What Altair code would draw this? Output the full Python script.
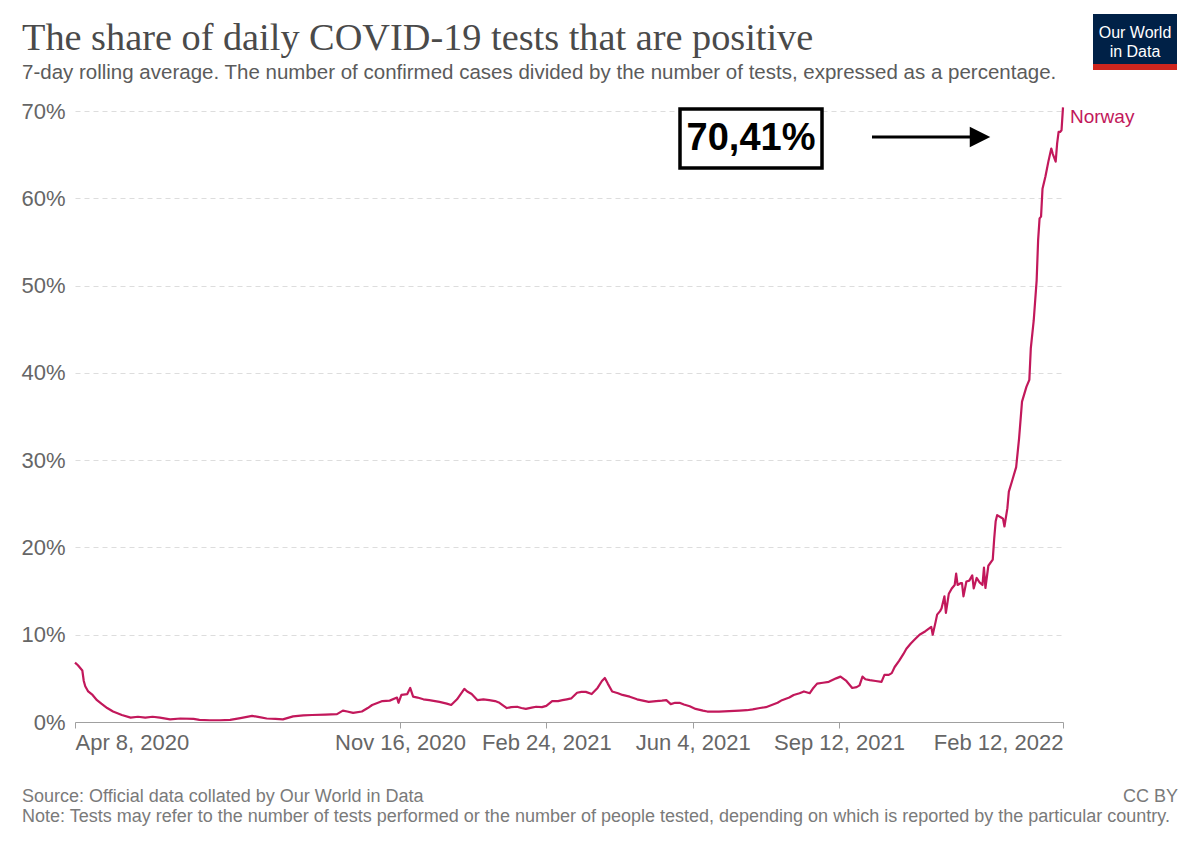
import altair as alt
import pandas as pd

# ---------------- data ----------------
dates = [
    "2020-04-08", "2020-04-10", "2020-04-12", "2020-04-13", "2020-04-14", "2020-04-15", "2020-04-17",
    "2020-04-20", "2020-04-23", "2020-04-26", "2020-04-30", "2020-05-04", "2020-05-10", "2020-05-16",
    "2020-05-21", "2020-05-26", "2020-05-31", "2020-06-05", "2020-06-12", "2020-06-19", "2020-06-28",
    "2020-07-02", "2020-07-09", "2020-07-16", "2020-07-23", "2020-07-30", "2020-08-07", "2020-08-12",
    "2020-08-17", "2020-08-23", "2020-08-28", "2020-09-04", "2020-09-11", "2020-09-17", "2020-09-26",
    "2020-10-04", "2020-10-08", "2020-10-11", "2020-10-15", "2020-10-21", "2020-10-25", "2020-10-28",
    "2020-11-01", "2020-11-04", "2020-11-09", "2020-11-14", "2020-11-15", "2020-11-17", "2020-11-21",
    "2020-11-23", "2020-11-25", "2020-11-28", "2020-12-02", "2020-12-06", "2020-12-13", "2020-12-18",
    "2020-12-21", "2020-12-25", "2020-12-30", "2021-01-01", "2021-01-04", "2021-01-08", "2021-01-12",
    "2021-01-16", "2021-01-20", "2021-01-23", "2021-01-28", "2021-01-31", "2021-02-04", "2021-02-07",
    "2021-02-10", "2021-02-14", "2021-02-17", "2021-02-21", "2021-02-24", "2021-02-28", "2021-03-04",
    "2021-03-07", "2021-03-10", "2021-03-13", "2021-03-17", "2021-03-20", "2021-03-23", "2021-03-27",
    "2021-03-31", "2021-04-03", "2021-04-05", "2021-04-07", "2021-04-10", "2021-04-14", "2021-04-17",
    "2021-04-22", "2021-04-27", "2021-05-01", "2021-05-05", "2021-05-10", "2021-05-14", "2021-05-17",
    "2021-05-20", "2021-05-23", "2021-05-26", "2021-05-29", "2021-06-02", "2021-06-06", "2021-06-11",
    "2021-06-14", "2021-06-17", "2021-06-22", "2021-06-29", "2021-07-06", "2021-07-11", "2021-07-15",
    "2021-07-20", "2021-07-24", "2021-07-28", "2021-08-01", "2021-08-04", "2021-08-09", "2021-08-12",
    "2021-08-16", "2021-08-19", "2021-08-23", "2021-08-25", "2021-08-28", "2021-09-01", "2021-09-05",
    "2021-09-10", "2021-09-13", "2021-09-17", "2021-09-19", "2021-09-21", "2021-09-24", "2021-09-26",
    "2021-09-28", "2021-09-30", "2021-10-03", "2021-10-07", "2021-10-11", "2021-10-13", "2021-10-16",
    "2021-10-18", "2021-10-20", "2021-10-23", "2021-10-26", "2021-10-28", "2021-10-31", "2021-11-03",
    "2021-11-06", "2021-11-10", "2021-11-14", "2021-11-15", "2021-11-17", "2021-11-18", "2021-11-20",
    "2021-11-21", "2021-11-23", "2021-11-24", "2021-11-26", "2021-11-28", "2021-11-30", "2021-12-01",
    "2021-12-02", "2021-12-04", "2021-12-05", "2021-12-06", "2021-12-08", "2021-12-10", "2021-12-12",
    "2021-12-13", "2021-12-15", "2021-12-17", "2021-12-19", "2021-12-20", "2021-12-21", "2021-12-23",
    "2021-12-26", "2021-12-27", "2021-12-28", "2021-12-29", "2022-01-01", "2022-01-02", "2022-01-03",
    "2022-01-05", "2022-01-06", "2022-01-08", "2022-01-11", "2022-01-13", "2022-01-15", "2022-01-18",
    "2022-01-20", "2022-01-21", "2022-01-23", "2022-01-25", "2022-01-26", "2022-01-27", "2022-01-28",
    "2022-01-29", "2022-01-31", "2022-02-02", "2022-02-04", "2022-02-05", "2022-02-07", "2022-02-08",
    "2022-02-09", "2022-02-10", "2022-02-11", "2022-02-12",
]
share = [
    6.8, 6.5, 6.1, 5.9, 4.7, 4.1, 3.5,
    3.1, 2.5, 2.1, 1.6, 1.2, 0.8, 0.5,
    0.6, 0.5, 0.6, 0.5, 0.3, 0.4, 0.35,
    0.25, 0.2, 0.2, 0.25, 0.45, 0.7, 0.55,
    0.4, 0.35, 0.3, 0.65, 0.75, 0.8, 0.85,
    0.9, 1.3, 1.2, 1.05, 1.2, 1.6, 1.95,
    2.2, 2.4, 2.45, 2.8, 2.2, 3.1, 3.2,
    3.9, 2.9, 2.8, 2.6, 2.5, 2.3, 2.1,
    1.95, 2.6, 3.8, 3.5, 3.2, 2.5, 2.6,
    2.5, 2.4, 2.2, 1.6, 1.7, 1.75, 1.6,
    1.5, 1.65, 1.75, 1.7, 1.85, 2.4, 2.4,
    2.5, 2.6, 2.7, 3.35, 3.45, 3.45, 3.2,
    3.9, 4.7, 5.05, 4.4, 3.5, 3.3, 3.1,
    2.9, 2.6, 2.45, 2.3, 2.4, 2.45, 2.5,
    2.05, 2.2, 2.2, 2.0, 1.8, 1.5, 1.3,
    1.2, 1.2, 1.2, 1.25, 1.3, 1.35, 1.45,
    1.6, 1.7, 1.95, 2.2, 2.5, 2.8, 3.1,
    3.3, 3.5, 3.3, 3.8, 4.4, 4.5, 4.6,
    5.0, 5.2, 4.7, 4.3, 3.9, 4.0, 4.2,
    5.2, 4.9, 4.8, 4.7, 4.6, 5.4, 5.4,
    5.6, 6.3, 7.0, 7.8, 8.4, 9.0, 9.5,
    10.0, 10.4, 10.9, 10.0, 11.5, 12.3, 12.7,
    13.0, 14.4, 12.5, 14.7, 15.3, 15.7, 17.0,
    15.7, 15.9, 15.9, 14.4, 16.1, 16.2, 16.8,
    15.3, 16.5, 16.0, 15.7, 17.7, 15.35, 17.9,
    18.6, 21.0, 23.0, 23.7, 23.4, 23.3, 22.4,
    24.5, 26.4, 27.5, 29.2, 32.5, 36.7, 38.4,
    39.2, 42.8, 46.0, 50.6, 55.2, 57.7, 57.9,
    61.1, 62.5, 64.2, 65.7, 65.1, 64.2, 66.3,
    67.6, 67.6, 67.8, 70.41,
]
country = "Norway"
tick_dates = [(2020, 4, 8), (2020, 11, 16), (2021, 2, 24), (2021, 6, 4), (2021, 9, 12), (2022, 2, 12)]
y_ticks = [0, 10, 20, 30, 40, 50, 60, 70]
annotation_label = "70,41%"

title = "The share of daily COVID-19 tests that are positive"
subtitle = "7-day rolling average. The number of confirmed cases divided by the number of tests, expressed as a percentage."
source = "Source: Official data collated by Our World in Data"
note = "Note: Tests may refer to the number of tests performed or the number of people tested, depending on which is reported by the particular country."
license_text = "CC BY"
logo_lines = ["Our World", "in Data"]

LINE = "#c2185b"
GREY = "#666666"
SANS = "Liberation Sans"

df = pd.DataFrame({"date": dates, "share": share, "country": country})

def dt(t):
    return alt.DateTime(year=t[0], month=t[1], date=t[2], utc=True)

x_enc = alt.X(
    "date:T",
    scale=alt.Scale(type="utc", domain=[dt(tick_dates[0]), dt(tick_dates[-1])]),
    axis=alt.Axis(
        values=[dt(t) for t in tick_dates],
        labelExpr="utcFormat(datum.value, '%b %-d, %Y')",
        labelFlush=True, labelFont=SANS, labelFontSize=22, labelColor=GREY,
        labelPadding=4, tickSize=6, tickColor="#a0a0a0", domainColor="#a0a0a0",
        grid=False, title=None, labelOverlap=False,
    ),
)
y_enc = alt.Y(
    "share:Q",
    scale=alt.Scale(domain=[0, 70], nice=False),
    axis=alt.Axis(
        values=y_ticks, labelExpr="datum.value + '%'", labelFont=SANS, labelFontSize=22,
        labelColor=GREY, labelPadding=10, ticks=False, domain=False, grid=True,
        gridColor="#dddddd", gridDash=[5, 4], title=None,
    ),
)

line = alt.Chart(df).mark_line(color=LINE, strokeWidth=2.2, strokeJoin="round").encode(x=x_enc, y=y_enc)

last = df.tail(1)
label = alt.Chart(last).mark_text(
    align="left", baseline="middle", dx=7, dy=10, font=SANS, fontSize=19, color=LINE
).encode(x="date:T", y="share:Q", text="country:N")

def txt(s, x, y, **kw):
    return alt.Chart(pd.DataFrame({"t": [s]})).mark_text(**kw).encode(
        text="t:N", x=alt.value(x), y=alt.value(y)
    )

def box(x, x2, y, y2, **kw):
    return alt.Chart(pd.DataFrame({"a": [0]})).mark_rect(**kw).encode(
        x=alt.value(x), x2=alt.value(x2), y=alt.value(y), y2=alt.value(y2)
    )

title_t = txt(title, -53, -61, align="left", baseline="alphabetic", font="Liberation Serif",
              fontSize=38.3, color="#4a4a4a")
sub_t = txt(subtitle, -53, -32, align="left", baseline="alphabetic", font=SANS, fontSize=20.5, color="#5b5b5b")
src_t = txt(source, -53, 691, align="left", baseline="alphabetic", font=SANS, fontSize=18, color="#7a7a7a")
note_t = txt(note, -53, 711, align="left", baseline="alphabetic", font=SANS, fontSize=18, color="#7a7a7a")
lic_t = txt(license_text, 1103, 691, align="right", baseline="alphabetic", font=SANS, fontSize=18, color="#7a7a7a")

logo_bg = box(1018, 1102, -97, -47, fill="#002147")
logo_red = box(1018, 1102, -47, -41, fill="#ce261e")
logo_1 = txt(logo_lines[0], 1060, -78, align="center", baseline="middle", font=SANS, fontSize=16, color="white")
logo_2 = txt(logo_lines[1], 1060, -59, align="center", baseline="middle", font=SANS, fontSize=16, color="white")

ann_box = box(605, 747, -2, 57, fill="white", stroke="black", strokeWidth=3.5)
ann_t = txt(annotation_label, 676, 28, align="center", baseline="middle", font=SANS, fontSize=38,
            fontWeight="bold", color="black")
arrow_line = alt.Chart(pd.DataFrame({"a": [0]})).mark_rule(color="black", strokeWidth=3).encode(
    x=alt.value(797), x2=alt.value(898), y=alt.value(26)
)
arrow_head = alt.Chart(pd.DataFrame({"a": [0]})).mark_point(
    shape="M-1,-1L1,0L-1,1Z", size=420, filled=True, color="black", opacity=1, strokeWidth=0
).encode(x=alt.value(905), y=alt.value(26))

chart = alt.layer(
    line, label, title_t, sub_t, src_t, note_t, lic_t,
    logo_bg, logo_red, logo_1, logo_2, ann_box, ann_t, arrow_line, arrow_head,
).properties(
    width=988, height=611,
    background="white",
    autosize=alt.AutoSizeParams(type="none"),
    padding={"left": 67, "top": 103, "right": 121, "bottom": 110},
).configure_view(strokeWidth=0, stroke="transparent")

chart.save("out.html", embed_options={"renderer": "svg", "actions": False})
